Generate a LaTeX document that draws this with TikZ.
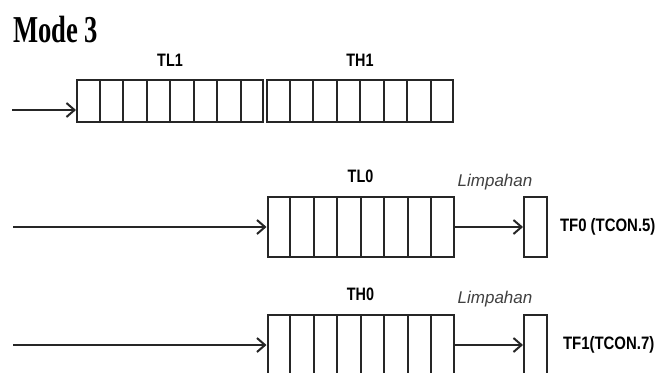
\documentclass[tikz,border=0pt]{standalone}
\usepackage{fontspec}
\setmainfont{Liberation Sans}
\newfontfamily\lblfont[FakeStretch=0.8]{Liberation Sans}
\newfontfamily\tffont[FakeStretch=0.83]{Liberation Sans}
\newfontfamily\modefont[FakeStretch=0.7]{Liberation Serif}
\usetikzlibrary{positioning,calc,arrows.meta}
\colorlet{linecol}{black!85}

\begin{document}
\begin{tikzpicture}[x=1pt, y=-1pt,
    >={Straight Barb[length=8pt,width=14pt]},
    line width=2pt,
    reg/.style={draw=linecol, rectangle, inner sep=0pt, minimum width=186pt},
    flag/.style={draw=linecol, rectangle, inner sep=0pt, minimum width=23pt, minimum height=60pt},
    conn/.style={->, draw=linecol},
    lbl/.style={inner sep=0pt, font=\lblfont\bfseries\fontsize{18}{18}\selectfont},
    tf/.style={inner sep=0pt, font=\tffont\bfseries\fontsize{18}{18}\selectfont},
    over/.style={inner sep=0pt, text=black!75, font=\itshape\fontsize{17}{17}\selectfont},
    title/.style={inner sep=0pt, font=\modefont\bfseries\fontsize{38}{38}\selectfont}]

    \useasboundingbox (0,0) rectangle (660,372);

    % === judul ===
    \node[title, anchor=base west] (mode) at (12, 42) {Mode 3};

    % === baris 1: TL1, TH1 ===
    \node[reg, minimum height=42pt] (TL1) at (170, 101) {};
    \node[reg, minimum height=42pt] (TH1) at (360, 101) {};
    \node[lbl, anchor=south, above=12pt of TL1] (lTL1) {TL1};
    \node[lbl, anchor=south, above=12pt of TH1] (lTH1) {TH1};
    \coordinate (in1) at (12, 110);

    % === baris 2: TL0 -> TF0 ===
    \node[reg, minimum height=60pt] (TL0) at (360.5, 227) {};
    \node[flag] (F0) at (535.5, 227) {};
    \node[lbl, above=12pt of TL0] (lTL0) {TL0};
    \node[over, anchor=base] (ov0) at (495, 186) {Limpahan};
    \node[tf, anchor=west, right=11pt of F0] (tTF0) {TF0 (TCON.5)};
    \coordinate (in2) at (13, 227);

    % === baris 3: TH0 -> TF1 ===
    \node[reg, minimum height=60pt] (TH0) at (360.5, 345) {};
    \node[flag] (F1) at (535.5, 345) {};
    \node[lbl, above=12pt of TH0] (lTH0) {TH0};
    \node[over, anchor=base] (ov1) at (495, 303) {Limpahan};
    \node[tf, anchor=west, right=14pt of F1] (tTF1) {TF1(TCON.7)};
    \coordinate (in3) at (13, 345);

    % === sel register ===
    \foreach \r in {TL1,TH1,TL0,TH0}
      \foreach \i in {1,...,7}
        \draw[linecol] ($(\r.south west)!\i/8!(\r.south east)$) -- ($(\r.north west)!\i/8!(\r.north east)$);

    % === panah ===
    \draw[conn] (in1) -- (in1 -| TL1.west);
    \draw[conn] (in2) -- (TL0);
    \draw[conn] (TL0) -- (F0);
    \draw[conn] (in3) -- (TH0);
    \draw[conn] (TH0) -- (F1);

\end{tikzpicture}
\end{document}
